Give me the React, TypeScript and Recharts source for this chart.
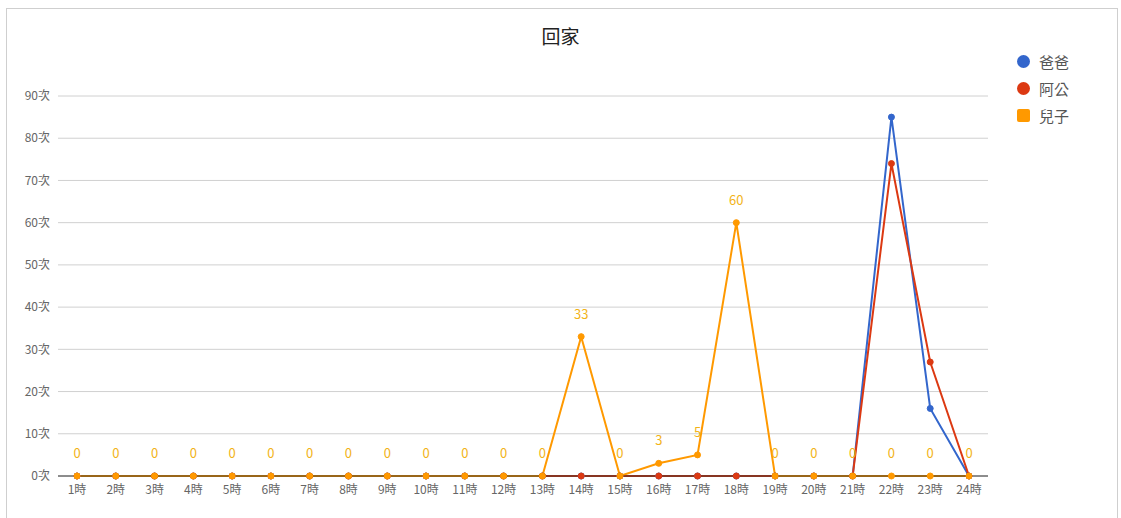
import { LineChart, Line, XAxis, YAxis, CartesianGrid, LabelList } from 'recharts';

const hours = [
  '1時', '2時', '3時', '4時', '5時', '6時', '7時', '8時', '9時', '10時', '11時', '12時',
  '13時', '14時', '15時', '16時', '17時', '18時', '19時', '20時', '21時', '22時', '23時', '24時',
];
const dad = [0, 0, 0, 0, 0, 0, 0, 0, 0, 0, 0, 0, 0, 0, 0, 0, 0, 0, 0, 0, 0, 85, 16, 0];
const grandpa = [0, 0, 0, 0, 0, 0, 0, 0, 0, 0, 0, 0, 0, 0, 0, 0, 0, 0, 0, 0, 0, 74, 27, 0];
const son = [0, 0, 0, 0, 0, 0, 0, 0, 0, 0, 0, 0, 0, 33, 0, 3, 5, 60, 0, 0, 0, 0, 0, 0];
const yTicks = [0, 10, 20, 30, 40, 50, 60, 70, 80, 90];

const series = [
  { key: 'dad', name: '爸爸', color: '#3366cc', shape: 'circle' },
  { key: 'grandpa', name: '阿公', color: '#dc3912', shape: 'circle' },
  { key: 'son', name: '兒子', color: '#ff9900', shape: 'square' },
];

const data = hours.map((h, i) => ({ hour: h, dad: dad[i], grandpa: grandpa[i], son: son[i] }));

const FONT = '"Noto Sans CJK TC", "Noto Sans", Arial, sans-serif';

export default function App() {
  return (
    <div
      style={{
        position: 'absolute',
        left: 0,
        top: 0,
        width: 1121,
        height: 518,
        background: '#fff',
        fontFamily: FONT,
        overflow: 'hidden',
      }}
    >
      <div
        style={{
          position: 'absolute',
          left: 6,
          top: 8,
          width: 1110,
          height: 540,
          border: '1px solid #cfcfcf',
        }}
      />
      <div
        style={{
          position: 'absolute',
          left: 0,
          width: 1121,
          top: 22,
          textAlign: 'center',
          fontSize: 19,
          color: '#222',
        }}
      >
        回家
      </div>

      <div style={{ position: 'absolute', left: 1017, top: 48 }}>
        {series.map((s) => (
          <div key={s.key} style={{ display: 'flex', alignItems: 'center', height: 27 }}>
            <div
              style={{
                width: 13,
                height: 13,
                borderRadius: s.shape === 'circle' ? '50%' : 2,
                background: s.color,
                marginRight: 9,
              }}
            />
            <span style={{ fontSize: 15, color: '#555' }}>{s.name}</span>
          </div>
        ))}
      </div>

      <div style={{ position: 'absolute', left: 0, top: 0 }}>
        <LineChart
          width={1121}
          height={518}
          data={data}
          margin={{ top: 96, right: 133, bottom: 12, left: 8 }}
        >
          <CartesianGrid vertical={false} stroke="#d0d0d0" />
          <XAxis
            dataKey="hour"
            padding={{ left: 19, right: 19 }}
            axisLine={{ stroke: '#333' }}
            tickLine={false}
            tickMargin={3}
            height={30}
            interval={0}
            tick={{ fill: '#666', fontSize: 12, fontFamily: FONT }}
          />
          <YAxis
            width={50}
            domain={[0, 90]}
            ticks={yTicks}
            axisLine={false}
            tickLine={false}
            tickMargin={2}
            tickFormatter={(v) => `${v}次`}
            tick={{ fill: '#666', fontSize: 12, fontFamily: FONT }}
          />
          <Line
            dataKey="dad"
            name="爸爸"
            type="linear"
            stroke="#3366cc"
            strokeWidth={2}
            dot={{ r: 3, fill: '#3366cc', stroke: '#3366cc', strokeWidth: 1 }}
            isAnimationActive={false}
          />
          <Line
            dataKey="grandpa"
            name="阿公"
            type="linear"
            stroke="#dc3912"
            strokeWidth={2}
            dot={{ r: 3, fill: '#dc3912', stroke: '#dc3912', strokeWidth: 1 }}
            isAnimationActive={false}
          />
          <Line
            dataKey="son"
            name="兒子"
            type="linear"
            stroke="#ff9900"
            strokeWidth={2}
            dot={{ r: 3, fill: '#ff9900', stroke: '#ff9900', strokeWidth: 1 }}
            isAnimationActive={false}
          >
            <LabelList
              dataKey="son"
              position="top"
              offset={18}
              fill="#f2b318"
              fontSize={13}
              fontFamily={FONT}
            />
          </Line>
        </LineChart>
      </div>
    </div>
  );
}
